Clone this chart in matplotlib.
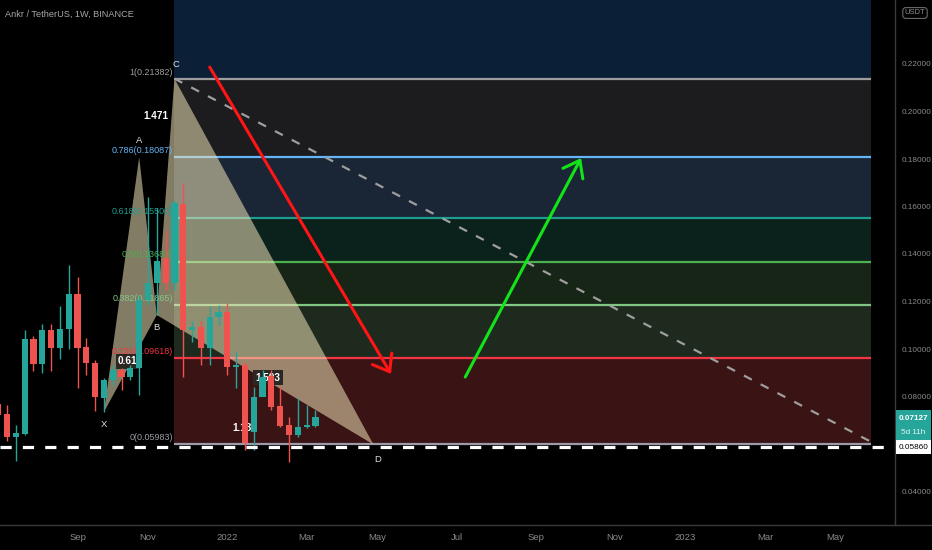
import numpy as np
import pandas as pd
import matplotlib
matplotlib.use('Agg')
import matplotlib.pyplot as plt
import matplotlib.dates as mdates
from matplotlib.patches import Polygon, FancyBboxPatch

plt.rcParams['font.family'] = ['Liberation Sans', 'DejaVu Sans']

# ---------------- data ----------------
candle_dates = pd.date_range('2021-07-05', periods=37, freq='7D')
opens = [0.0768, 0.0726, 0.0629, 0.0642, 0.1042, 0.0937, 0.1080, 0.1004, 0.1084, 0.1232,
         0.1008, 0.0941, 0.0794, 0.0869, 0.0912, 0.0882, 0.0920, 0.1206, 0.1278, 0.1383,
         0.1278, 0.1611, 0.1080, 0.1093, 0.1004, 0.1135, 0.1156, 0.0924, 0.0933, 0.0651,
         0.0798, 0.0886, 0.0760, 0.0680, 0.0638, 0.0672, 0.0676]
highs = [0.0790, 0.0764, 0.0680, 0.1080, 0.1055, 0.1105, 0.1105, 0.1181, 0.1354, 0.1303,
         0.1046, 0.0954, 0.0878, 0.0933, 0.0920, 0.0933, 0.1227, 0.1640, 0.1594, 0.1501,
         0.1627, 0.1699, 0.1120, 0.1120, 0.1180, 0.1185, 0.1194, 0.0987, 0.0945, 0.0840,
         0.0912, 0.0912, 0.0840, 0.0713, 0.0794, 0.0764, 0.0743]
lows = [0.0700, 0.0613, 0.0528, 0.0640, 0.0907, 0.0899, 0.0907, 0.0958, 0.1000, 0.0836,
        0.0891, 0.0739, 0.0735, 0.0848, 0.0827, 0.0869, 0.0806, 0.1185, 0.1143, 0.1248,
        0.1248, 0.0882, 0.1030, 0.0933, 0.0933, 0.1100, 0.0891, 0.0836, 0.0575, 0.0575,
        0.0820, 0.0743, 0.0672, 0.0524, 0.0629, 0.0668, 0.0672]
closes = [0.0722, 0.0629, 0.0646, 0.1042, 0.0937, 0.1080, 0.1004, 0.1084, 0.1232, 0.1004,
          0.0941, 0.0798, 0.0869, 0.0912, 0.0882, 0.0920, 0.1206, 0.1278, 0.1371, 0.1278,
          0.1615, 0.1080, 0.1093, 0.1004, 0.1135, 0.1156, 0.0924, 0.0933, 0.0604, 0.0798,
          0.0882, 0.0756, 0.0676, 0.0638, 0.0672, 0.0680, 0.07127]

pattern_labels = ['X', 'A', 'B', 'C', 'D']
pattern_dates = pd.to_datetime(['2021-09-27', '2021-10-25', '2021-11-08', '2021-11-22', '2022-04-29'])
pattern_prices = [0.0735, 0.1808, 0.1143, 0.21382, 0.05983]
ratio_labels = ['0.61', '1.471', '1.593', '1.13']
ratio_dates = pd.to_datetime(['2021-10-16', '2021-11-07', '2022-02-04', '2022-01-15'])
ratio_prices = [0.0949, 0.1983, 0.0878, 0.0667]

fib_ratios = ['1.618', '1', '0.786', '0.618', '0.5', '0.382', '0.236', '0']
fib_prices = [0.30899, 0.21382, 0.18087, 0.15500, 0.13683, 0.11865, 0.09618, 0.05983]
fib_line_colors = [None, '#9e9e9e', '#64b5f6', '#1f9c90', '#4caf50', '#81c784', '#f23645', '#9c9aa6']
fib_zone_colors = ['#0b2037', '#1c1c1e', '#1a2535', '#0b211c', '#162516', '#1f2a1e', '#3a1414']
fib_start, fib_end = pd.Timestamp('2021-11-22'), pd.Timestamp('2023-05-29')

trend_dates = pd.to_datetime(['2021-11-22', '2023-05-29'])
trend_prices = [0.21382, 0.0610]
red_arrow_dates = pd.to_datetime(['2021-12-20', '2022-05-13'])
red_arrow_prices = [0.2187, 0.0895]
green_arrow_dates = pd.to_datetime(['2022-07-11', '2022-10-11'])
green_arrow_prices = [0.0882, 0.1804]

support_price = 0.05860
last_price = 0.07127
countdown = '5d 11h'

tick_dates = pd.to_datetime(['2021-09-06', '2021-11-01', '2022-01-03', '2022-03-07', '2022-05-02',
                             '2022-07-04', '2022-09-05', '2022-11-07', '2023-01-02', '2023-03-06',
                             '2023-05-01'])
tick_labels = ['Sep', 'Nov', '2022', 'Mar', 'May', 'Jul', 'Sep', 'Nov', '2023', 'Mar', 'May']
price_ticks = [0.04, 0.08, 0.10, 0.12, 0.14, 0.16, 0.18, 0.20, 0.22]
title = 'Ankr / TetherUS, 1W, BINANCE'

# ---------------- figure ----------------
W, H = 932, 550
fig = plt.figure(figsize=(W / 100, H / 100), dpi=100, facecolor='black')
ax = fig.add_axes([0, 25 / H, 895 / W, 525 / H])
ax.set_facecolor('black')

def dn(d):
    return mdates.date2num(pd.Timestamp(d).to_pydatetime())

ref = dn('2021-09-06')
ppd = 1.259  # pixels per day
ax.set_xlim(ref - 77.5 / ppd, ref + (895 - 77.5) / ppd)
ax.set_ylim(0.22 - 461 / 2375, 0.22 + 64 / 2375)

# fib zones
xs, xe = dn(fib_start), dn(fib_end)
for i in range(len(fib_prices) - 1):
    ax.fill_between([xs, xe], fib_prices[i + 1], fib_prices[i], color=fib_zone_colors[i], lw=0, zorder=1)
for i in range(1, len(fib_prices)):
    ax.hlines(fib_prices[i], xs, xe, color=fib_line_colors[i], lw=1.6, zorder=2)
    ax.annotate(f'{fib_ratios[i]}({fib_prices[i]:.5f})', (xs, fib_prices[i]), xytext=(-1, 1.5),
                textcoords='offset points', ha='right', va='bottom', fontsize=6.5,
                color=fib_line_colors[i], zorder=3.5)

# harmonic pattern triangles
pxs = [dn(d) for d in pattern_dates]
tri_col = '#f0e4b8'
ax.add_patch(Polygon([(pxs[0], pattern_prices[0]), (pxs[1], pattern_prices[1]), (pxs[2], pattern_prices[2])],
                     closed=True, facecolor=tri_col, alpha=0.55, edgecolor='none', zorder=3))
ax.add_patch(Polygon([(pxs[2], pattern_prices[2]), (pxs[3], pattern_prices[3]), (pxs[4], pattern_prices[4])],
                     closed=True, facecolor=tri_col, alpha=0.55, edgecolor='none', zorder=3))
lbl_off = [(0, -9), (0, 12), (0, -9), (1, 10), (3, -11)]
for lab, x, y, off in zip(pattern_labels, pxs, pattern_prices, lbl_off):
    ax.annotate(lab, (x, y), xytext=off, textcoords='offset points', ha='center', va='center',
                fontsize=6.8, color='#e0e0e0', zorder=6)

# ratio labels
for k, (lab, d, p) in enumerate(zip(ratio_labels, ratio_dates, ratio_prices)):
    box = dict(boxstyle='square,pad=0.25', fc='#2b2722', ec='none') if k in (0, 2) else None
    ax.text(dn(d), p, lab, ha='center', va='center', fontsize=7.2, fontweight='bold',
            color='white', bbox=box, zorder=3.6)

# candles
cx = np.array([dn(d) for d in candle_dates])
o, h, l, c = map(np.array, (opens, highs, lows, closes))
up = c >= o
cols = np.where(up, '#26a69a', '#ef5350')
ax.vlines(cx, l, h, colors=cols, lw=1, zorder=4)
body_lo = np.minimum(o, c)
body_h = np.maximum(np.abs(c - o), 0.0006)
ax.bar(cx, body_h, bottom=body_lo, width=4.9, color=cols, lw=0, zorder=4.1)

# diagonal dashed trend line
ax.plot([dn(d) for d in trend_dates], trend_prices, color='#9e9e9e', lw=1.6,
        dashes=(4, 4.5), zorder=5)

# support dashed line
ax.axhline(support_price, color='white', lw=2.3, dashes=(3.5, 3.5), zorder=5)

# arrows
def arrow(dates, prices, color):
    ax.annotate('', xy=(dn(dates[1]), prices[1]), xytext=(dn(dates[0]), prices[0]),
                arrowprops=dict(arrowstyle='->,head_length=0.6,head_width=0.45', color=color,
                                lw=2.2, mutation_scale=18, shrinkA=0, shrinkB=0), zorder=6)
arrow(red_arrow_dates, red_arrow_prices, '#ff1515')
arrow(green_arrow_dates, green_arrow_prices, '#13e41a')

# axes styling
for s in ['top', 'left']:
    ax.spines[s].set_visible(False)
ax.spines['right'].set_color('#3a3a3a')
ax.spines['bottom'].set_color('#3a3a3a')
ax.spines['right'].set_linewidth(1)
ax.spines['bottom'].set_linewidth(1)
ax.yaxis.tick_right()
ax.set_yticks(price_ticks)
ax.set_yticklabels([f'{v:.5f}' for v in price_ticks])
ax.set_xticks([dn(d) for d in tick_dates])
ax.set_xticklabels(tick_labels)
ax.tick_params(axis='both', length=0, colors='#8a8a8a')
ax.tick_params(axis='y', pad=5, labelsize=5.9)
ax.tick_params(axis='x', pad=6, labelsize=6.8)

# horizontal line under price scale
fig.add_artist(plt.Line2D([895 / W, 1], [25 / H, 25 / H], color='#3a3a3a', lw=1))

# title
fig.text(5 / W, 1 - 14 / H, title, color='#a9a9a9', fontsize=6.6, ha='left', va='center')

# USDT box
fig.text(915 / W, 1 - 13 / H, 'USDT', color='#8c8c8c', fontsize=5.5, ha='center', va='center',
         bbox=dict(boxstyle='round,pad=0.25,rounding_size=0.4', fc='black', ec='#6a6a6a', lw=0.8))

# last price tag
def ypix(v):
    return 64 + (0.22 - v) * 2375
yl = ypix(last_price)
fig.patches.append(FancyBboxPatch((896 / W, 1 - (yl + 24) / H), 35 / W, 31 / H,
                                  boxstyle='square,pad=0', fc='#26a69a', ec='none',
                                  transform=fig.transFigure, figure=fig))
fig.text(913.5 / W, 1 - (yl + 1) / H, f'{last_price:.5f}', color='white', fontsize=5.9,
         fontweight='bold', ha='center', va='center')
fig.text(913.5 / W, 1 - (yl + 15) / H, countdown, color='#e8f5f3', fontsize=5.9,
         ha='center', va='center')
ys = ypix(support_price)
fig.patches.append(FancyBboxPatch((896 / W, 1 - (ys + 7) / H), 35 / W, 14 / H,
                                  boxstyle='square,pad=0', fc='white', ec='none',
                                  transform=fig.transFigure, figure=fig))
fig.text(913.5 / W, 1 - ys / H, f'{support_price:.5f}', color='black', fontsize=5.9,
         ha='center', va='center')

fig.savefig('out.png', dpi=100, facecolor='black')
